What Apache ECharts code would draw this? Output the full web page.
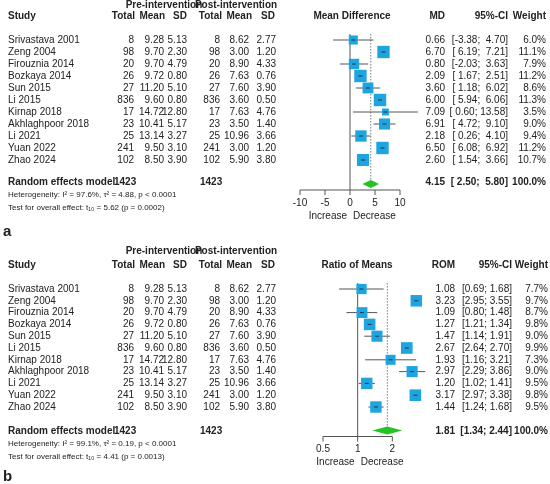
<!DOCTYPE html>
<html><head><meta charset="utf-8">
<script src="https://cdn.jsdelivr.net/npm/echarts@6/dist/echarts.min.js"></script>
<style>html,body{margin:0;background:#fff}#c{width:550px;height:484px}</style>
</head><body><div id="c"></div>
<script>
const studies = ['Srivastava 2001','Zeng 2004','Firouznia 2014','Bozkaya 2014','Sun 2015','Li 2015','Kirnap 2018','Akhlaghpoor 2018','Li 2021','Yuan 2022','Zhao 2024'];
const preTotal = [8,98,20,26,27,836,17,23,25,241,102];
const preMean = ['9.28','9.70','9.70','9.72','11.20','9.60','14.72','10.41','13.14','9.50','8.50'];
const preSD = ['5.13','2.30','4.79','0.80','5.10','0.80','12.80','5.17','3.27','3.10','3.90'];
const postTotal = [8,98,20,26,27,836,17,23,25,241,102];
const postMean = ['8.62','3.00','8.90','7.63','7.60','3.60','7.63','3.50','10.96','3.00','5.90'];
const postSD = ['2.77','1.20','4.33','0.76','3.90','0.50','4.76','1.40','3.66','1.20','3.80'];

const md = [0.66,6.70,0.80,2.09,3.60,6.00,7.09,6.91,2.18,6.50,2.60];
const mdLo = [-3.38,6.19,-2.03,1.67,1.18,5.94,0.60,4.72,0.26,6.08,1.54];
const mdHi = [4.70,7.21,3.63,2.51,6.02,6.06,13.58,9.10,4.10,6.92,3.66];
const mdW = [6.0,11.1,7.9,11.2,8.6,11.3,3.5,9.0,9.4,11.2,10.7];
const mdPooled = [4.15,2.50,5.80];

const rom = [1.08,3.23,1.09,1.27,1.47,2.67,1.93,2.97,1.20,3.17,1.44];
const romLo = [0.69,2.95,0.80,1.21,1.14,2.64,1.16,2.29,1.02,2.97,1.24];
const romHi = [1.68,3.55,1.48,1.34,1.91,2.70,3.21,3.86,1.41,3.38,1.68];
const romW = [7.7,9.7,8.7,9.8,9.0,9.9,7.3,9.0,9.5,9.8,9.5];
const romPooled = [1.81,1.34,2.44];

const mdTicks = [-10,-5,0,5,10];
const romTicks = [0.5,1,2];

const FONT = '"Liberation Sans", Arial, sans-serif';
const GREY = '#555';
const BLUE = '#1ea5e0';

const f2 = v => v.toFixed(2);
const ci = (lo, hi, pad) => {
  const p = s => pad ? s.padStart(5, ' ') : s;
  return '[' + p(f2(lo)) + '; ' + p(f2(hi)) + ']';
};

// text of one panel (table columns, headers, footers)
const panelText = (top, est, lo, hi, w, pooled, effName, effHead, estX, ciX, wX, pad, het, test, letter) => {
  const t = [];
  const txt = (x, y, s, align, bold, size) => t.push({
    type: 'text', x: x, y: y,
    style: {text: s, x: 0, y: 0, align: align || 'left', verticalAlign: 'middle',
      font: (bold ? 'bold ' : '') + (size || 10) + 'px ' + FONT, fill: '#222'}
  });
  const rowH = top.rowH;
  txt(164, top.h0, 'Pre-intervention', 'center', true);
  txt(236, top.h0, 'Post-intervention', 'center', true);
  txt(8, top.h1, 'Study', 'left', true);
  txt(135, top.h1, 'Total', 'right', true);
  txt(165, top.h1, 'Mean', 'right', true);
  txt(187, top.h1, 'SD', 'right', true);
  txt(222, top.h1, 'Total', 'right', true);
  txt(252, top.h1, 'Mean', 'right', true);
  txt(275, top.h1, 'SD', 'right', true);
  txt(effHead, top.h1, effName, 'center', true);
  txt(estX, top.h1, pad ? 'MD' : 'ROM', 'right', true);
  txt(ciX, top.h1, '95%-CI', 'right', true);
  txt(wX, top.h1, 'Weight', 'right', true);
  studies.forEach((s, i) => {
    const y = top.r0 + i * rowH;
    txt(8, y, s);
    txt(134, y, String(preTotal[i]), 'right');
    txt(164, y, preMean[i], 'right');
    txt(187, y, preSD[i], 'right');
    txt(220, y, String(postTotal[i]), 'right');
    txt(249, y, postMean[i], 'right');
    txt(276, y, postSD[i], 'right');
    txt(estX, y, f2(est[i]), 'right');
    txt(ciX, y, ci(lo[i], hi[i], pad), 'right');
    txt(wX, y, w[i].toFixed(1) + '%', 'right');
  });
  txt(8, top.pool, 'Random effects model', 'left', true);
  txt(114, top.pool, '1423', 'left', true);
  txt(200, top.pool, '1423', 'left', true);
  txt(estX, top.pool, f2(pooled[0]), 'right', true);
  txt(ciX, top.pool, ci(pooled[1], pooled[2], pad), 'right', true);
  txt(wX, top.pool, '100.0%', 'right', true);
  txt(8, top.pool + 13, het, 'left', false, 8);
  txt(8, top.pool + 26, test, 'left', false, 8);
  txt(3, top.letter, letter, 'left', true, 15);
  return t;
};

// forest marks: CI line, weighted square, centre tick
const forestItem = (params, api) => {
  const row = api.value(4);
  const c = api.coord([api.value(0), row]);
  const l = api.coord([api.value(1), row]);
  const h = api.coord([api.value(2), row]);
  const s = Math.sqrt(api.value(3)) * 3.7;
  return {type: 'group', children: [
    {type: 'line', shape: {x1: l[0], y1: c[1], x2: h[0], y2: c[1]}, style: {stroke: GREY, lineWidth: 1}},
    {type: 'rect', shape: {x: c[0] - s / 2, y: c[1] - s / 2, width: s, height: s}, style: {fill: BLUE}},
    {type: 'line', shape: {x1: c[0] - 2, y1: c[1], x2: c[0] + 2, y2: c[1]}, style: {stroke: '#234', lineWidth: 1}}
  ]};
};

// axis line, ticks, null line, pooled line and diamond
const axisItem = (ticks, nullV, pooled, labels) => (params, api) => {
  const ax = 12.5;
  const a0 = api.coord([ticks[0], ax]);
  const a1 = api.coord([ticks[ticks.length - 1], ax]);
  const top = api.coord([nullV, -0.5]);
  const dTop = api.coord([pooled[0], -0.5]);
  const dMid = api.coord([pooled[0], 12]);
  const dL = api.coord([pooled[1], 12]);
  const dR = api.coord([pooled[2], 12]);
  const kids = [
    {type: 'line', shape: {x1: top[0], y1: top[1], x2: top[0], y2: a0[1]}, style: {stroke: GREY, lineWidth: 1}},
    {type: 'line', shape: {x1: dTop[0], y1: dTop[1], x2: dTop[0], y2: dMid[1]}, style: {stroke: GREY, lineWidth: 0.8, lineDash: [1.5, 1.5]}},
    {type: 'polygon', shape: {points: [[dL[0], dMid[1]], [dMid[0], dMid[1] - 4], [dR[0], dMid[1]], [dMid[0], dMid[1] + 4]]}, style: {fill: '#22c322'}},
    {type: 'line', shape: {x1: a0[0], y1: a0[1], x2: a1[0], y2: a1[1]}, style: {stroke: GREY, lineWidth: 1}}
  ];
  ticks.forEach(t => {
    const p = api.coord([t, ax]);
    kids.push({type: 'line', shape: {x1: p[0], y1: p[1], x2: p[0], y2: p[1] + 5}, style: {stroke: GREY, lineWidth: 1}});
    kids.push({type: 'text', style: {text: String(t), x: p[0], y: p[1] + 13, align: 'center', verticalAlign: 'middle', font: '10px ' + FONT, fill: '#222'}});
  });
  const n = api.coord([nullV, ax]);
  kids.push({type: 'text', style: {text: labels[0], x: n[0] - 3, y: n[1] + 26, align: 'right', verticalAlign: 'middle', font: '10px ' + FONT, fill: '#222'}});
  kids.push({type: 'text', style: {text: labels[1], x: n[0] + 3, y: n[1] + 26, align: 'left', verticalAlign: 'middle', font: '10px ' + FONT, fill: '#222'}});
  return {type: 'group', children: kids};
};

const rowsOf = (est, lo, hi, w) => est.map((v, i) => [v, lo[i], hi[i], w[i], i]);

const chart = echarts.init(document.getElementById('c'));
chart.setOption({
  animation: false,
  grid: [
    {left: 300, width: 120, top: 40, height: 156},
    {left: 323, width: 104, top: 289, height: 153.4}
  ],
  xAxis: [
    {gridIndex: 0, type: 'value', min: -10, max: 14, show: false},
    {gridIndex: 1, type: 'log', logBase: 2, min: 0.5, max: 4, show: false}
  ],
  yAxis: [
    {gridIndex: 0, type: 'value', min: 0, max: 13, inverse: true, show: false},
    {gridIndex: 1, type: 'value', min: 0, max: 13, inverse: true, show: false}
  ],
  series: [
    {type: 'custom', xAxisIndex: 0, yAxisIndex: 0, data: [[0]], renderItem: axisItem(mdTicks, 0, mdPooled, ['Increase', 'Decrease']), clip: false, silent: true},
    {type: 'custom', xAxisIndex: 0, yAxisIndex: 0, data: rowsOf(md, mdLo, mdHi, mdW), renderItem: forestItem, encode: {x: [0, 1, 2], y: 4}, clip: false},
    {type: 'custom', xAxisIndex: 1, yAxisIndex: 1, data: [[1]], renderItem: axisItem(romTicks, 1, romPooled, ['Increase', 'Decrease']), clip: false, silent: true},
    {type: 'custom', xAxisIndex: 1, yAxisIndex: 1, data: rowsOf(rom, romLo, romHi, romW), renderItem: forestItem, encode: {x: [0, 1, 2], y: 4}, clip: false}
  ],
  graphic: panelText({h0: 5, h1: 16, r0: 40, rowH: 12, pool: 182, letter: 232}, md, mdLo, mdHi, mdW, mdPooled,
      'Mean Difference', 352, 445, 508, 546, true,
      'Heterogeneity: I² = 97.6%, τ² = 4.88, p < 0.0001', 'Test for overall effect: t₁₀ = 5.62 (p = 0.0002)', 'a')
    .concat(panelText({h0: 251, h1: 265, r0: 289, rowH: 11.8, pool: 431, letter: 477}, rom, romLo, romHi, romW, romPooled,
      'Ratio of Means', 357, 455, 512, 548, false,
      'Heterogeneity: I² = 99.1%, τ² = 0.19, p < 0.0001', 'Test for overall effect: t₁₀ = 4.41 (p = 0.0013)', 'b'))
});
</script></body></html>
